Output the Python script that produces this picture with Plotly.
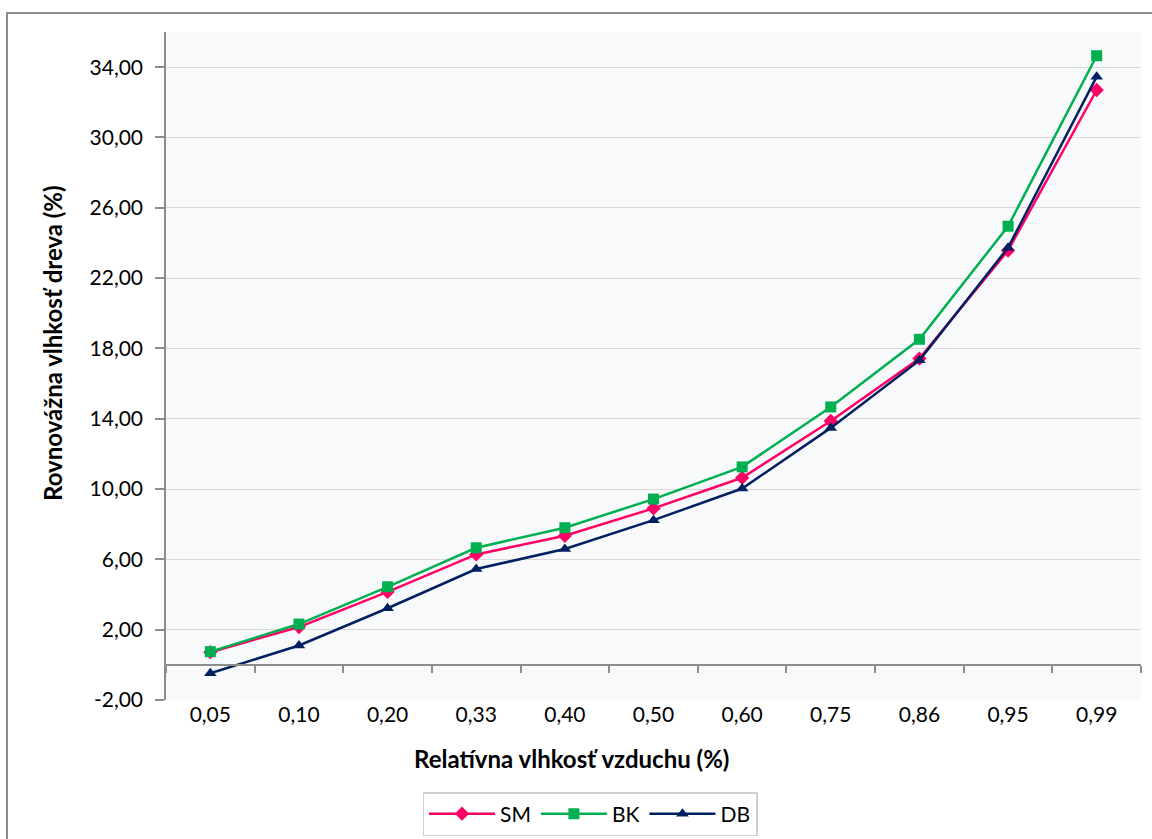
import plotly.graph_objects as go

categories = ["0,05", "0,10", "0,20", "0,33", "0,40", "0,50", "0,60", "0,75", "0,86", "0,95", "0,99"]
sm = [0.72, 2.15, 4.15, 6.28, 7.34, 8.90, 10.64, 13.87, 17.42, 23.57, 32.70]
bk = [0.75, 2.32, 4.44, 6.66, 7.80, 9.43, 11.26, 14.67, 18.52, 24.95, 34.65]
db = [-0.48, 1.10, 3.22, 5.45, 6.59, 8.23, 10.03, 13.48, 17.32, 23.73, 33.46]

y_ticks = [-2, 2, 6, 10, 14, 18, 22, 26, 30, 34]
y_ticktext = ["-2,00", "2,00", "6,00", "10,00", "14,00", "18,00", "22,00", "26,00", "30,00", "34,00"]

FONT = "Lato"
AX = "#8C8C8C"

# layout geometry (pixels)
W, H = 1152, 839
ML, MR, MT, MB = 166, 11, 32, 24
PLOT_BOTTOM = 700
PW = W - ML - MR
PH = H - MT - MB


def py(pix):  # pixel row -> paper y
    return (H - MB - pix) / PH


def px(pix):  # pixel column -> paper x
    return (pix - ML) / PW


dom_low = py(PLOT_BOTTOM)
zero_pix = PLOT_BOTTOM - 2 / 38 * (PLOT_BOTTOM - MT)

fig = go.Figure()
fig.add_trace(go.Scatter(x=categories, y=sm, name="SM", mode="lines+markers",
                         line=dict(color="#FF0066", width=2.5),
                         marker=dict(symbol="diamond", size=11, color="#FF0066")))
fig.add_trace(go.Scatter(x=categories, y=bk, name="BK", mode="lines+markers",
                         line=dict(color="#00B050", width=2.5),
                         marker=dict(symbol="square", size=11, color="#00B050")))
fig.add_trace(go.Scatter(x=categories, y=db, name="DB", mode="lines+markers",
                         line=dict(color="#002060", width=2.5),
                         marker=dict(symbol="triangle-up", size=11, color="#002060")))
# helper trace for the axis at zero (line with boundary ticks)
fig.add_trace(go.Scatter(x=categories, y=sm, xaxis="x2", mode="none",
                         showlegend=False, hoverinfo="skip"))

fig.update_layout(
    width=W, height=H,
    margin=dict(l=ML, r=MR, t=MT, b=MB, autoexpand=False),
    paper_bgcolor="white",
    plot_bgcolor="#F8F9FB",
    font=dict(family=FONT, size=21, color="black"),
    showlegend=True,
    legend=dict(orientation="h", x=px(590), y=py(792), xanchor="center", yanchor="top",
                bordercolor="#D0D0D0", borderwidth=1.5, bgcolor="white",
                font=dict(family=FONT, size=21), itemwidth=66, tracegroupgap=0),
    xaxis=dict(type="category", categoryorder="array", categoryarray=categories,
               range=[-0.5, 10.5], showgrid=False, showline=False, ticks="",
               zeroline=False, tickfont=dict(size=21), ticklabelstandoff=0),
    xaxis2=dict(type="category", categoryorder="array", categoryarray=categories,
                range=[-0.5, 10.5], overlaying="x", anchor="free",
                position=py(zero_pix), showgrid=False, showline=True, linecolor=AX,
                linewidth=1.5, ticks="outside", tickson="boundaries", ticklen=7,
                tickcolor=AX, tickwidth=1.5, showticklabels=False, zeroline=False),
    yaxis=dict(domain=[dom_low, 1], range=[-2, 36], tickvals=y_ticks, ticktext=y_ticktext,
               showgrid=True, gridcolor="#D9D9D9", gridwidth=1,
               showline=True, linecolor=AX, linewidth=1.5,
               ticks="outside", ticklen=9, tickcolor=AX, tickwidth=1.5,
               zeroline=False, tickfont=dict(size=21), ticklabelstandoff=8),
    annotations=[
        dict(text="<b>Rovnovážna vlhkosť dreva (%)</b>", xref="paper", yref="paper",
             x=px(52), y=py(343), textangle=-90, showarrow=False,
             font=dict(family=FONT, size=24), xanchor="center", yanchor="middle"),
        dict(text="<b>Relatívna vlhkosť vzduchu (%)</b>", xref="paper", yref="paper",
             x=px(571), y=py(758), showarrow=False,
             font=dict(family=FONT, size=24), xanchor="center", yanchor="middle"),
    ],
    shapes=[
        dict(type="rect", xref="paper", yref="paper",
             x0=px(7), x1=px(1160), y0=py(880), y1=py(13),
             line=dict(color="#8C8C8C", width=2), fillcolor="rgba(0,0,0,0)",
             layer="below"),
    ],
)

fig.write_html("out.html")
